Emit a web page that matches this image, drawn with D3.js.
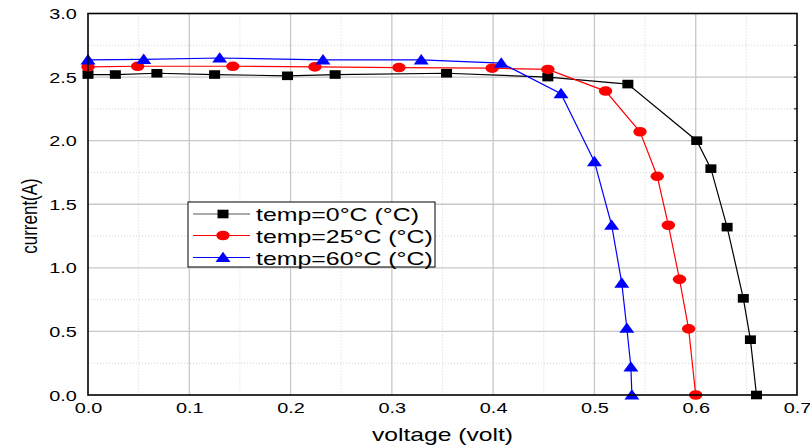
<!DOCTYPE html>
<html>
<head>
<meta charset="utf-8">
<script src="https://cdn.jsdelivr.net/npm/d3@7"></script>
<style>
  body { margin: 0; background: #fff; }
  text { font-family: "Liberation Sans", Arial, sans-serif; fill: #000; }
</style>
</head>
<body>
<div id="chart"></div>
<script>
// voltage (volt) / current (A)
const volt0 = [0, 0.027, 0.068, 0.125, 0.197, 0.244, 0.354, 0.454, 0.533, 0.601, 0.615, 0.631, 0.647, 0.654, 0.660];
const curr0 = [2.52, 2.52, 2.53, 2.52, 2.51, 2.52, 2.53, 2.50, 2.445, 2.0, 1.78, 1.32, 0.76, 0.435, 0];

const volt25 = [0, 0.049, 0.143, 0.224, 0.307, 0.399, 0.454, 0.511, 0.545, 0.562, 0.573, 0.584, 0.593, 0.600];
const curr25 = [2.58, 2.585, 2.585, 2.58, 2.575, 2.57, 2.56, 2.39, 2.07, 1.72, 1.335, 0.91, 0.52, 0];

const volt60 = [0, 0.055, 0.130, 0.232, 0.329, 0.408, 0.467, 0.500, 0.517, 0.527, 0.532, 0.536, 0.537];
const curr60 = [2.635, 2.64, 2.65, 2.635, 2.635, 2.61, 2.37, 1.835, 1.335, 0.88, 0.525, 0.22, 0];

const seriesNames = ["temp=0°C (°C)", "temp=25°C (°C)", "temp=60°C (°C)"];
const seriesColors = ["#000000", "#ff0000", "#0000ff"];
const seriesShapes = ["square", "circle", "triangle"];

const xTicks = [0, 0.1, 0.2, 0.3, 0.4, 0.5, 0.6, 0.7];
const yTicks = [0, 0.5, 1.0, 1.5, 2.0, 2.5, 3.0];

const series = [
  { name: seriesNames[0], color: seriesColors[0], shape: seriesShapes[0], pts: volt0.map((v, i) => [v, curr0[i]]) },
  { name: seriesNames[1], color: seriesColors[1], shape: seriesShapes[1], pts: volt25.map((v, i) => [v, curr25[i]]) },
  { name: seriesNames[2], color: seriesColors[2], shape: seriesShapes[2], pts: volt60.map((v, i) => [v, curr60[i]]) }
];

let width = 810, height = 448;
let plot = { left: 88, right: 797, top: 13.5, bottom: 395 };

const svg = d3.select("#chart")
  .append("svg")
  .attr("width", width)
  .attr("height", height);

const x = d3.scaleLinear().domain([0, 0.7]).range([plot.left, plot.right]);
const y = d3.scaleLinear().domain([0, 3]).range([plot.bottom, plot.top]);

// grid: solid majors, dotted minors
const grid = svg.append("g");
grid.selectAll(".vminor")
  .data(d3.range(0.05, 0.7, 0.1))
  .enter().append("line")
  .attr("x1", d => x(d)).attr("x2", d => x(d))
  .attr("y1", plot.top).attr("y2", plot.bottom)
  .attr("stroke", "#d4d4d4").attr("stroke-dasharray", "1,2");
grid.selectAll(".hminor")
  .data(d3.range(0.25, 3, 0.5))
  .enter().append("line")
  .attr("y1", d => y(d)).attr("y2", d => y(d))
  .attr("x1", plot.left).attr("x2", plot.right)
  .attr("stroke", "#d4d4d4").attr("stroke-dasharray", "1,2");
grid.selectAll(".vmajor")
  .data(xTicks.slice(1, -1))
  .enter().append("line")
  .attr("x1", d => x(d)).attr("x2", d => x(d))
  .attr("y1", plot.top).attr("y2", plot.bottom)
  .attr("stroke", "#c8c8c8").attr("stroke-width", 1.3);
grid.selectAll(".hmajor")
  .data(yTicks.slice(1, -1))
  .enter().append("line")
  .attr("y1", d => y(d)).attr("y2", d => y(d))
  .attr("x1", plot.left).attr("x2", plot.right)
  .attr("stroke", "#c8c8c8").attr("stroke-width", 1.3);

// axes (labels only, frame drawn below)
const xAxis = svg.append("g")
  .attr("transform", `translate(0,${plot.bottom})`)
  .call(d3.axisBottom(x).tickValues(xTicks).tickFormat(d3.format(".1f")).tickSize(0));
xAxis.select(".domain").remove();
xAxis.selectAll("text")
  .attr("y", 0).attr("dy", 18)
  .attr("font-size", 14)
  .attr("transform", "scale(1.42,1)");

const yAxis = svg.append("g")
  .attr("transform", `translate(${plot.left},0)`)
  .call(d3.axisLeft(y).tickValues(yTicks).tickFormat(d3.format(".1f")).tickSize(0));
yAxis.select(".domain").remove();
yAxis.selectAll("text")
  .attr("x", -7.8).attr("dy", 5)
  .attr("font-size", 14)
  .attr("transform", "scale(1.42,1)");

// markers
function drawMarker(sel, shape, color) {
  if (shape === "square") {
    sel.append("rect")
      .attr("x", -5.5).attr("y", -4.3)
      .attr("width", 11).attr("height", 8.6)
      .attr("fill", color);
  } else if (shape === "circle") {
    sel.append("ellipse")
      .attr("rx", 6.7).attr("ry", 4.8)
      .attr("fill", color);
  } else {
    sel.append("path")
      .attr("d", "M0,-5.8L7.5,4.6L-7.5,4.6Z")
      .attr("fill", color);
  }
}

const line = d3.line().x(d => x(d[0])).y(d => y(d[1]));

series.forEach(s => {
  svg.append("path")
    .datum(s.pts)
    .attr("d", line)
    .attr("fill", "none")
    .attr("stroke", s.color)
    .attr("stroke-width", 1.2);
});

series.forEach(s => {
  svg.append("g").selectAll("g")
    .data(s.pts)
    .enter().append("g")
    .attr("transform", d => `translate(${x(d[0])},${y(d[1])})`)
    .each(function () { drawMarker(d3.select(this), s.shape, s.color); });
});

// frame
svg.append("rect")
  .attr("x", plot.left).attr("y", plot.top)
  .attr("width", plot.right - plot.left)
  .attr("height", plot.bottom - plot.top)
  .attr("fill", "none")
  .attr("stroke", "#000")
  .attr("stroke-width", 1.6);

svg.append("g").selectAll("line")
  .data(d3.range(0.25, 3, 0.25))
  .enter().append("line")
  .attr("x1", plot.right - 3).attr("x2", plot.right)
  .attr("y1", d => y(d)).attr("y2", d => y(d))
  .attr("stroke", "#000");

// axis titles
svg.append("text")
  .attr("transform", `translate(${(plot.left + plot.right) / 2},441) scale(1.37,1)`)
  .attr("text-anchor", "middle")
  .attr("font-size", 18)
  .text("voltage (volt)");

svg.append("text")
  .attr("transform", "translate(37,216) rotate(-90) scale(1,1.35)")
  .attr("text-anchor", "middle")
  .attr("font-size", 17)
  .text("current(A)");

// legend
const legend = svg.append("g");
legend.append("rect")
  .attr("x", 188).attr("y", 202)
  .attr("width", 247).attr("height", 65)
  .attr("fill", "#fff")
  .attr("stroke", "#000")
  .attr("stroke-width", 1);

const legendY = [214, 235.5, 257.5];
series.forEach((s, i) => {
  const row = legend.append("g").attr("transform", `translate(0,${legendY[i]})`);
  row.append("line")
    .attr("x1", 193).attr("x2", 250)
    .attr("stroke", i === 0 ? "#555" : s.color)
    .attr("stroke-width", 1);
  drawMarker(row.append("g").attr("transform", "translate(223,0)"), s.shape, s.color);
  row.append("text")
    .attr("transform", "translate(256,7) scale(1.31,1)")
    .attr("font-size", 19)
    .text(s.name);
});
</script>
</body>
</html>
